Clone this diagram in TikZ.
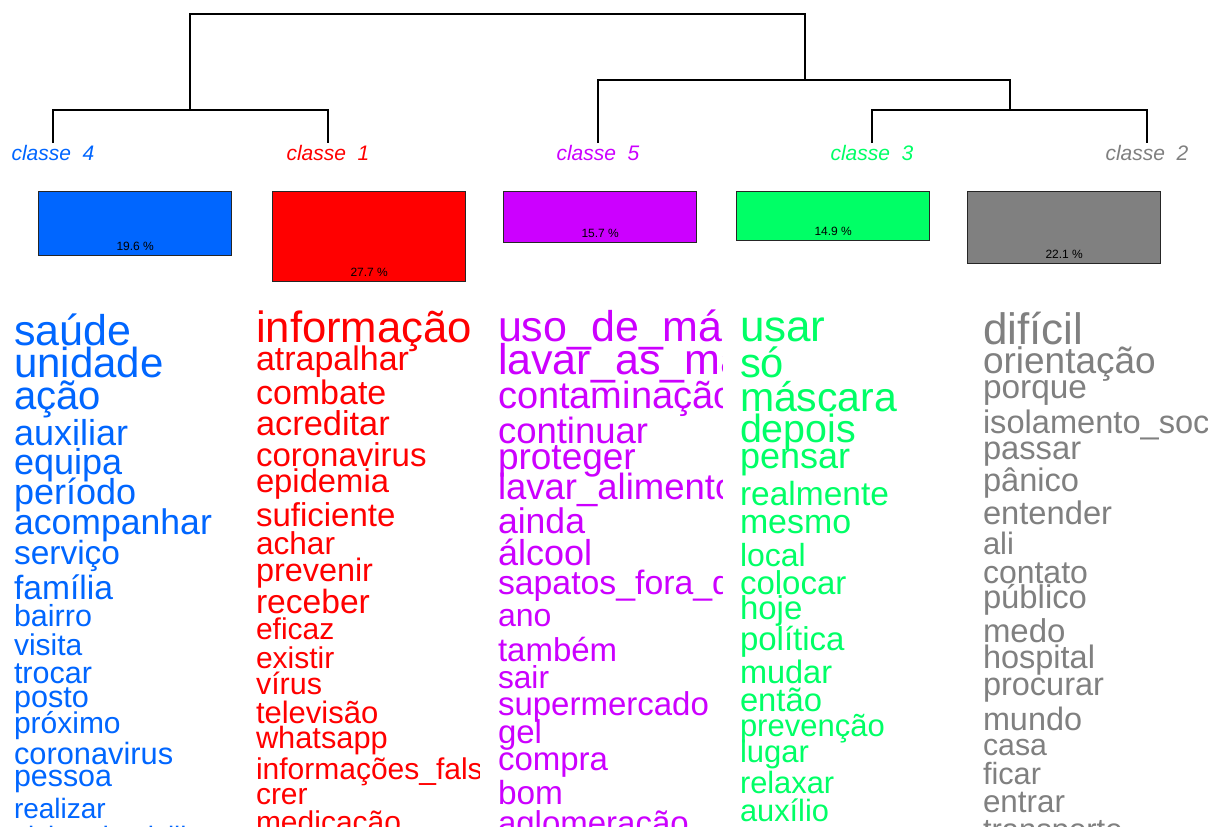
\documentclass[tikz,border=0pt]{standalone}
\usepackage{fontspec}
\setmainfont{Liberation Sans}
\definecolor{cfour}{HTML}{0066FF}
\definecolor{cone}{HTML}{FF0000}
\definecolor{cfive}{HTML}{CC00FF}
\definecolor{cthree}{HTML}{00FF66}
\definecolor{ctwo}{HTML}{808080}
\newcommand{\fsz}[1]{\fontsize{#1}{#1}\selectfont}
\begin{document}
\begin{tikzpicture}[x=1pt,y=-1pt,
  dline/.style={line width=1.4pt, black},
  clabel/.style={anchor=base, inner sep=0pt, font=\fsz{21}\itshape},
  barbox/.style={draw=black!85, line width=1.4pt, anchor=north west, minimum width=193pt, inner sep=0pt},
  pct/.style={anchor=base, inner sep=0pt, font=\fsz{12}, text=black},
  wd/.style={anchor=base west, inner sep=0pt, outer sep=0pt}]
\useasboundingbox (0,0) rectangle (1211,827);
\fill[white] (0,0) rectangle (1211,827);

% leaf labels
\node[clabel, text=cfour]  (l4) at (53,160)   {classe\ \ 4};
\node[clabel, text=cone]   (l1) at (328,160)  {classe\ \ 1};
\node[clabel, text=cfive]  (l5) at (598,160)  {classe\ \ 5};
\node[clabel, text=cthree] (l3) at (872,160)  {classe\ \ 3};
\node[clabel, text=ctwo]   (l2) at (1147,160) {classe\ \ 2};

% dendrogram
\coordinate (k4) at (53,143);
\coordinate (k1) at (328,143);
\coordinate (k5) at (598,143);
\coordinate (k3) at (872,143);
\coordinate (k2) at (1147,143);
\coordinate (a) at (190,110);
\coordinate (r) at (500,14);
\coordinate (b) at (805,80);
\coordinate (c) at (1010,110);
\draw[dline] (k4) |- (a) -| (k1);
\draw[dline] (a) |- (r) -| (b);
\draw[dline] (k5) |- (b) -| (c);
\draw[dline] (k3) |- (c) -| (k2);

% bars
\node[barbox, fill=cfour,  minimum height=64pt] (bar4) at (38,191)  {};
\node[barbox, fill=cone,   minimum height=90pt] (bar1) at (272,191) {};
\node[barbox, fill=cfive,  minimum height=51pt] (bar5) at (503,191) {};
\node[barbox, fill=cthree, minimum height=49pt] (bar3) at (736,191) {};
\node[barbox, fill=ctwo,   minimum height=72pt] (bar2) at (967,191) {};
\node[pct] (p4) at ([yshift=6pt]bar4.south) {19.6 \%};
\node[pct] (p1) at ([yshift=6pt]bar1.south) {27.7 \%};
\node[pct] (p5) at ([yshift=6pt]bar5.south) {15.7 \%};
\node[pct] (p3) at ([yshift=6pt]bar3.south) {14.9 \%};
\node[pct] (p2) at ([yshift=6pt]bar2.south) {22.1 \%};

% classe 4 words
\begin{scope}
\clip (10,295) rectangle (238,827);
\foreach \s/\y/\t [count=\i] in {
  43/345/saúde, 42/377/unidade, 40/409/ação, 36/445/auxiliar, 36/474/equipa,
  36/504/período, 35.6/534/acompanhar, 33.5/564/serviço, 33.6/599/família,
  30.5/626/bairro, 30/655/visita, 30.5/683/trocar, 30.6/707/posto,
  30/733/próximo, 30.8/764/coronavirus, 30.4/786/pessoa, 28/818/realizar,
  28/846/visita\_domiciliar}
  \node[wd, text=cfour, font=\fsz{\s}] (wa\i) at (14,\y) {\t};
\end{scope}

% classe 1 words
\begin{scope}
\clip (250,295) rectangle (479,827);
\foreach \s/\y/\t [count=\i] in {
  43.7/342/informação, 34/370/atrapalhar, 34/404/combate, 34.4/435/acreditar,
  33/466/coronavirus, 32.8/492/epidemia, 33/526/suficiente, 31.6/554/achar,
  32.4/581/prevenir, 33.6/613/receber, 30/639/eficaz, 30/668/existir,
  30.5/694/vírus, 31/723/televisão, 30.8/748/whatsapp,
  30/779/informações\_falsas, 30/804/crer, 30/832/medicação}
  \node[wd, text=cone, font=\fsz{\s}] (wb\i) at (256,\y) {\t};
\end{scope}

% classe 5 words
\begin{scope}
\clip (492,295) rectangle (722,827);
\foreach \s/\y/\t [count=\i] in {
  43/341/uso\_de\_máscaras, 43/374/lavar\_as\_mãos, 38/408/contaminação,
  36.5/443/continuar, 37/469/proteger, 36.5/499/lavar\_alimentos,
  35.6/533/ainda, 36/565/álcool, 33.8/594/sapatos\_fora\_de\_casa,
  32/626/ano, 33/661/também, 31.7/688/sair, 33/715/supermercado,
  33/743/gel, 33/770/compra, 33.4/804/bom, 33/834/aglomeração}
  \node[wd, text=cfive, font=\fsz{\s}] (wc\i) at (498,\y) {\t};
\end{scope}

% classe 3 words
\begin{scope}
\clip (734,295) rectangle (964,827);
\foreach \s/\y/\t [count=\i] in {
  44/341/usar, 41.7/377/só, 41/411/máscara, 39.4/442/depois, 36/468/pensar,
  33.5/505/realmente, 33.9/533/mesmo, 32/566/local, 33/594/colocar,
  33/619/hoje, 33/650/política, 32.5/683/mudar, 32.8/711/então,
  31/736/prevenção, 31/762/lugar, 30.8/793/relaxar, 30.8/821/auxílio}
  \node[wd, text=cthree, font=\fsz{\s}] (wd\i) at (740,\y) {\t};
\end{scope}

% classe 2 words
\begin{scope}
\clip (977,295) rectangle (1207,827);
\foreach \s/\y/\t [count=\i] in {
  44/344/difícil, 37/373/orientação, 33.4/398/porque,
  32.6/433/isolamento\_social, 32.7/459/passar, 32.6/491/pânico,
  32.7/524/entender, 31/554/ali, 32/583/contato, 32.8/608/público,
  33/642/medo, 32.5/668/hospital, 32.5/695/procurar, 32.4/730/mundo,
  30.3/755/casa, 30.7/784/ficar, 31.4/812/entrar, 31/840/transporte}
  \node[wd, text=ctwo, font=\fsz{\s}] (we\i) at (983,\y) {\t};
\end{scope}
\end{tikzpicture}
\end{document}
